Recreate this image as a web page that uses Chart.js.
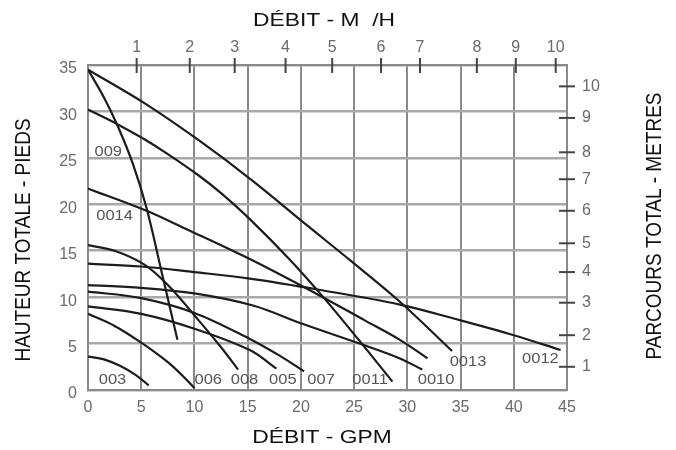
<!DOCTYPE html>
<html>
<head>
<meta charset="utf-8">
<script src="https://cdn.jsdelivr.net/npm/chart.js@4"></script>
<style>
  html, body { margin: 0; padding: 0; background: #fff; }
  #wrap { width: 676px; height: 450px; }
</style>
</head>
<body>
<div id="wrap"><canvas id="pump-chart"></canvas></div>
<script>
// pump curves, [gpm, feet]
const curve0013 = [[0, 34.5], [5.3, 30.9], [10.4, 26.9], [15.5, 22.5], [20.5, 17.8], [24.7, 13.9], [29.3, 9.5], [34.2, 4.2]];
const curve009  = [[0, 34.5], [1.5, 31.5], [2.8, 28.4], [4.2, 24.4], [5.5, 19.6], [6.9, 12.8], [8.4, 5.4]];
const curve0011 = [[0, 30.2], [2.8, 28.6], [5.3, 27.0], [7.5, 25.4], [10.4, 23.1], [12.5, 21.2], [15.2, 18.4], [18.9, 14.1], [22.4, 9.6], [25.5, 5.3], [27.2, 2.9], [28.6, 0.9]];
const curve0014 = [[0, 21.7], [5.5, 19.3], [9.1, 17.4], [15.2, 14.1], [21.4, 10.4], [26, 7.5], [29.3, 5.4], [31.9, 3.4]];
const curve008  = [[0, 15.6], [2.5, 15.0], [5.3, 13.5], [7.5, 11.3], [10.4, 7.5], [12.5, 4.6], [14.1, 2.2]];
const curve0012 = [[0, 13.6], [5, 13.3], [10, 12.7], [15.2, 12.0], [21.7, 10.8], [29.3, 9.2], [35, 7.5], [40, 5.9], [44.4, 4.3]];
const curve0010 = [[0, 11.3], [5, 11.0], [10, 10.4], [15.5, 9.1], [20.2, 7.1], [25.5, 5.0], [29.3, 3.4], [31.4, 2.2]];
const curve007  = [[0, 10.6], [5, 9.9], [10, 8.3], [15.2, 5.5], [18, 3.7], [20.3, 2.0]];
const curve005  = [[0, 9.0], [5, 8.2], [10, 6.6], [15.2, 4.3], [17.7, 2.3]];
const curve006  = [[0, 8.2], [2.5, 6.9], [5, 5.1], [7.5, 3.0], [9, 1.4], [10, 0.2]];
const curve003  = [[0, 3.6], [1.5, 3.3], [3, 2.6], [4.5, 1.6], [5.7, 0.5]];

const curves = [curve0013, curve009, curve0011, curve0014, curve008, curve0012, curve0010, curve007, curve005, curve006, curve003];

// curve tags printed on the chart
const labelNames = ['009', '0014', '003', '006', '008', '005', '007', '0011', '0010', '0013', '0012'];
const labelGpm   = [1.9, 2.5, 2.3, 11.3, 14.7, 18.3, 21.9, 26.5, 32.7, 35.7, 42.5];
const labelFt    = [25.6, 18.7, 1.1, 1.1, 1.1, 1.1, 1.1, 1.1, 1.1, 3.0, 3.4];

// secondary axes (m3/h on top, metres on the right), positions as printed
const topTickGpm = [4.57, 9.56, 13.78, 18.56, 22.94, 27.53, 31.19, 36.53, 40.19, 43.94];
const topTickLabels = ['1', '2', '3', '4', '5', '6', '7', '8', '9', '10'];
const rightTickFt = [2.5, 5.9, 9.4, 12.7, 15.8, 19.3, 22.7, 25.6, 29.3, 32.7];
const rightTickLabels = ['1', '2', '3', '4', '5', '6', '7', '8', '9', '10'];

const titleTop = 'DÉBIT - M  /H';
const titleBottom = 'DÉBIT - GPM';
const titleLeft = 'HAUTEUR TOTALE - PIEDS';
const titleRight = 'PARCOURS TOTAL - METRES';

const FONT = 'Liberation Sans, Arial, sans-serif';

function stretchedText(ctx, text, x, y, rot, size, color) {
    ctx.save();
    ctx.translate(x, y);
    ctx.scale(1.2, 1);
    ctx.rotate(rot);
    ctx.font = size + 'px ' + FONT;
    ctx.fillStyle = color;
    ctx.textAlign = 'center';
    ctx.textBaseline = 'middle';
    ctx.fillText(text, 0, 0);
    ctx.restore();
}

const decorPlugin = {
    id: 'decor',
    afterDraw(chart) {
        const ctx = chart.ctx;
        const area = chart.chartArea;
        const top = chart.scales.x2;
        const right = chart.scales.y2;
        const x = chart.scales.x;
        const y = chart.scales.y;

        ctx.save();
        ctx.strokeStyle = '#444';
        ctx.lineWidth = 2;
        top.ticks.forEach(t => {
            const px = top.getPixelForValue(t.value);
            ctx.beginPath();
            ctx.moveTo(px, area.top - 7);
            ctx.lineTo(px, area.top + 8);
            ctx.stroke();
        });
        right.ticks.forEach(t => {
            const py = right.getPixelForValue(t.value);
            ctx.beginPath();
            ctx.moveTo(area.right - 8, py);
            ctx.lineTo(area.right + 8, py);
            ctx.stroke();
        });

        ctx.font = '15px ' + FONT;
        ctx.fillStyle = '#555';
        ctx.textAlign = 'center';
        ctx.textBaseline = 'middle';
        labelNames.forEach((name, i) => {
            ctx.save();
            ctx.translate(x.getPixelForValue(labelGpm[i]), y.getPixelForValue(labelFt[i]));
            ctx.scale(1.1, 1);
            ctx.fillText(name, 0, 0);
            ctx.restore();
        });
        ctx.restore();

        stretchedText(ctx, titleTop, 324, 21, 0, 19, '#111');
        stretchedText(ctx, titleBottom, 322, 438, 0, 19, '#111');
        stretchedText(ctx, titleLeft, 24, 240, -Math.PI / 2, 19, '#111');
        stretchedText(ctx, titleRight, 655, 226, -Math.PI / 2, 19, '#111');
    }
};

const ctx = document.getElementById('pump-chart').getContext('2d');

new Chart(ctx, {
    type: 'line',
    data: {
        datasets: curves.map(c => ({
            data: c.map(p => ({ x: p[0], y: p[1] })),
            borderColor: '#1c1c1c',
            borderWidth: 2.2,
            pointRadius: 0,
            fill: false,
            tension: 0.35,
            xAxisID: 'x',
            yAxisID: 'y'
        }))
    },
    options: {
        responsive: true,
        maintainAspectRatio: false,
        animation: false,
        layout: { padding: 0 },
        plugins: {
            legend: { display: false },
            tooltip: { enabled: false }
        },
        scales: {
            x: {
                type: 'linear',
                position: 'bottom',
                min: 0,
                max: 45,
                ticks: { stepSize: 5, padding: 8, color: '#6a6a6a', font: { size: 16, family: FONT } },
                grid: { color: '#8a8a8a', lineWidth: 2, drawTicks: false },
                border: { color: '#8a8a8a', width: 2 },
                afterFit: s => { s.height = 60; }
            },
            x2: {
                type: 'linear',
                position: 'top',
                min: 0,
                max: 45,
                afterBuildTicks: s => { s.ticks = topTickGpm.map(v => ({ value: v })); },
                ticks: {
                    padding: 8,
                    color: '#6a6a6a',
                    font: { size: 16, family: FONT },
                    callback: (v, i) => topTickLabels[i]
                },
                grid: { display: false, drawTicks: false },
                border: { color: '#8a8a8a', width: 2 },
                afterFit: s => { s.height = 65; }
            },
            y: {
                type: 'linear',
                position: 'left',
                min: 0,
                max: 35,
                ticks: { stepSize: 5, padding: 11, labelOffset: 4, color: '#6a6a6a', font: { size: 16, family: FONT } },
                grid: { color: '#a8a8a8', lineWidth: 2.5, drawTicks: false },
                border: { color: '#8a8a8a', width: 2 },
                afterFit: s => { s.width = 88; }
            },
            y2: {
                type: 'linear',
                position: 'right',
                min: 0,
                max: 35,
                afterBuildTicks: s => { s.ticks = rightTickFt.map(v => ({ value: v })); },
                ticks: {
                    padding: 15,
                    color: '#6a6a6a',
                    font: { size: 16, family: FONT },
                    callback: (v, i) => rightTickLabels[i]
                },
                grid: { display: false, drawTicks: false },
                border: { color: '#8a8a8a', width: 2 },
                afterFit: s => { s.width = 109; }
            }
        }
    },
    plugins: [decorPlugin]
});
</script>
</body>
</html>
